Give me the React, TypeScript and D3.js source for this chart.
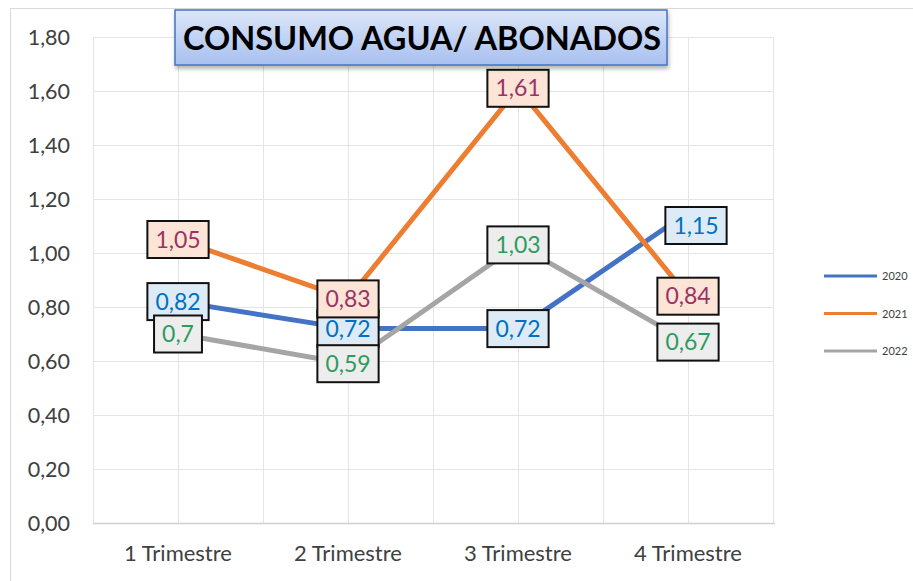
import React, { useEffect, useRef } from "react";
import * as d3 from "d3";

const categories = ["1 Trimestre", "2 Trimestre", "3 Trimestre", "4 Trimestre"];
const seriesNames = ["2020", "2021", "2022"];
const values2020 = [0.82, 0.72, 0.72, 1.15];
const values2021 = [1.05, 0.83, 1.61, 0.84];
const values2022 = [0.7, 0.59, 1.03, 0.67];
const yTicks = [0, 0.2, 0.4, 0.6, 0.8, 1.0, 1.2, 1.4, 1.6, 1.8];
const title = "CONSUMO AGUA/ ABONADOS";

const lineColors = ["#4472C4", "#ED7D31", "#A5A5A5"];
const labelFills = ["#DDEBF7", "#FCE4D6", "#EDEDED"];
const labelText = ["#0070C0", "#993366", "#2E9B5E"];

const fmt = (v: number) => String(v).replace(".", ",");

const App = () => {
  const ref = useRef<SVGSVGElement>(null);

  useEffect(() => {
    const W = 913, H = 581;
    const svg = d3.select(ref.current).attr("width", W).attr("height", H);
    svg.selectAll("*").remove();
    const font = "Lato, 'Open Sans', sans-serif";

    svg.append("rect").attr("width", W).attr("height", H).attr("fill", "#fff");
    svg.append("rect")
      .attr("x", 10.5).attr("y", 8.5).attr("width", 930).attr("height", 600)
      .attr("fill", "none").attr("stroke", "#d9d9d9");

    const left = 93, right = 773, top = 37, bottom = 523;

    const x = d3.scaleBand().domain(categories).range([left, right]);
    const xc = (c: string) => (x(c) as number) + x.bandwidth() / 2;
    const y = d3.scaleLinear().domain([0, 1.8]).range([bottom, top]);

    const grid = svg.append("g").attr("stroke", "#e4e4e4").attr("stroke-width", 1);
    yTicks.slice(1).forEach(t => {
      grid.append("line").attr("x1", left).attr("x2", right)
        .attr("y1", Math.round(y(t)) + 0.5).attr("y2", Math.round(y(t)) + 0.5);
    });
    const vx: number[] = [];
    categories.forEach(c => { vx.push(x(c) as number); vx.push(xc(c)); });
    vx.push(right);
    vx.forEach(v => {
      grid.append("line").attr("x1", Math.round(v) + 0.5).attr("x2", Math.round(v) + 0.5)
        .attr("y1", top).attr("y2", bottom);
    });
    svg.append("line").attr("x1", left).attr("x2", right + 2)
      .attr("y1", bottom + 0.5).attr("y2", bottom + 0.5)
      .attr("stroke", "#d0d0d0").attr("stroke-width", 1.5);

    svg.append("g").selectAll("text").data(yTicks).enter().append("text")
      .attr("x", 70).attr("y", d => y(d) + 7.5)
      .attr("text-anchor", "end").attr("font-family", font).attr("font-size", 21.5)
      .attr("fill", "#404040").text(d => d3.format(".2f")(d).replace(".", ","));

    svg.append("g").selectAll("text").data(categories).enter().append("text")
      .attr("x", d => xc(d)).attr("y", 561)
      .attr("text-anchor", "middle").attr("font-family", font).attr("font-size", 22)
      .attr("fill", "#404040").text(d => d);

    const allSeries = [values2020, values2021, values2022];
    const line = d3.line<number>().x((d, i) => xc(categories[i])).y(d => y(d));

    allSeries.forEach((s, si) => {
      svg.append("path").datum(s).attr("d", line)
        .attr("fill", "none").attr("stroke", lineColors[si]).attr("stroke-width", 5)
        .attr("stroke-linejoin", "round").attr("stroke-linecap", "round");
    });

    allSeries.forEach((s, si) => {
      s.forEach((v, i) => {
        let cx = xc(categories[i]);
        let cy = y(v);
        if (si === 0 && i === 3) { cx += 8; cy += 13; }
        const g = svg.append("g");
        const rect = g.append("rect").attr("fill", labelFills[si])
          .attr("stroke", "#111").attr("stroke-width", 2);
        const t = g.append("text").attr("x", cx).attr("y", cy + 8)
          .attr("text-anchor", "middle").attr("font-family", font).attr("font-size", 23)
          .attr("fill", labelText[si]).text(fmt(v));
        const w = ((t.node() as SVGTextElement).getComputedTextLength() || 42) + 16;
        rect.attr("x", cx - w / 2).attr("y", cy - 18.5).attr("width", w).attr("height", 37);
      });
    });

    // title
    const defs = svg.append("defs");
    const grad = defs.append("linearGradient").attr("id", "tg")
      .attr("x1", 0).attr("y1", 0).attr("x2", 0).attr("y2", 1);
    grad.append("stop").attr("offset", "0%").attr("stop-color", "#dce6f8");
    grad.append("stop").attr("offset", "100%").attr("stop-color", "#a8c0ef");
    const flt = defs.append("filter").attr("id", "sh").attr("x", "-10%").attr("y", "-20%")
      .attr("width", "120%").attr("height", "160%");
    flt.append("feDropShadow").attr("dx", 1).attr("dy", 3).attr("stdDeviation", 2)
      .attr("flood-color", "#000").attr("flood-opacity", 0.3);
    svg.append("rect").attr("x", 175).attr("y", 10).attr("width", 492).attr("height", 55)
      .attr("fill", "url(#tg)").attr("stroke", "#4472C4").attr("stroke-width", 1.5)
      .attr("filter", "url(#sh)");
    svg.append("text").attr("x", 422).attr("y", 50)
      .attr("text-anchor", "middle").attr("font-family", font).attr("font-weight", "bold")
      .attr("font-size", 32.5).attr("fill", "#000").text(title);

    // legend
    const lg = svg.append("g");
    seriesNames.forEach((n, i) => {
      const ly = 276 + i * 37.5;
      lg.append("line").attr("x1", 824).attr("x2", 877).attr("y1", ly).attr("y2", ly)
        .attr("stroke", lineColors[i]).attr("stroke-width", 3);
      lg.append("text").attr("x", 882).attr("y", ly + 4).attr("font-family", font)
        .attr("font-size", 11).attr("fill", "#404040").text(n);
    });
  }, []);

  return (
    <div style={{ position: "absolute", left: 0, top: 0 }}>
      <svg ref={ref}></svg>
    </div>
  );
};

export default App;
